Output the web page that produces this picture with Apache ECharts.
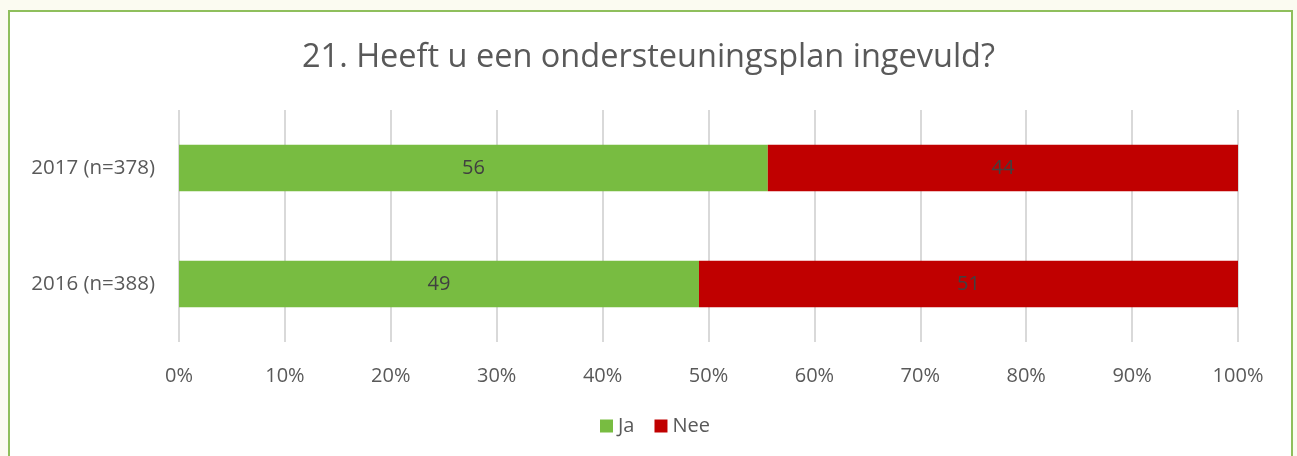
<!DOCTYPE html>
<html>
<head>
<meta charset="utf-8">
<script src="https://cdn.jsdelivr.net/npm/echarts@6/dist/echarts.min.js"></script>
<style>
  html, body { margin: 0; padding: 0; background: #fbfbf1; }
  .frame { position: absolute; left: 8px; top: 10px; width: 1281px; height: 460px;
           background: #fff; border: 2px solid #8fbf5c; }
  #chart { position: absolute; left: 0; top: 0; width: 1297px; height: 456px; }
</style>
</head>
<body>
<div class="frame"></div>
<div id="chart"></div>
<script>
var categories = ['2016 (n=388)', '2017 (n=378)']
var ja = [49.1, 55.6]
var nee = [50.9, 44.4]
var ticks = [0, 10, 20, 30, 40, 50, 60, 70, 80, 90, 100]

var chart = echarts.init(document.getElementById('chart'))
var font = '"Open Sans", sans-serif'

var option = {
  backgroundColor: 'transparent',
  animation: false,
  title: {
    text: '21. Heeft u een ondersteuningsplan ingevuld?',
    left: 'center',
    top: 36,
    textStyle: { fontFamily: font, fontSize: 32.5, fontWeight: 'normal', color: '#595959' }
  },
  legend: {
    bottom: 15,
    left: 595,
    itemWidth: 13,
    itemHeight: 13,
    itemGap: 20,
    icon: 'rect',
    textStyle: { fontFamily: font, fontSize: 20, color: '#595959' },
    data: ['Ja', 'Nee']
  },
  grid: { left: 179, right: 59, top: 110, bottom: 114 },
  xAxis: {
    type: 'value',
    min: 0,
    max: ticks[ticks.length - 1],
    interval: ticks[1] - ticks[0],
    axisLine: { show: false },
    axisTick: { show: false },
    axisLabel: { formatter: '{value}%', margin: 24, fontFamily: font, fontSize: 20, color: '#595959' },
    splitLine: { lineStyle: { color: '#d9d9d9', width: 2 } }
  },
  yAxis: {
    type: 'category',
    data: categories,
    axisLine: { show: false },
    axisTick: { show: false },
    axisLabel: { margin: 24, fontFamily: font, fontSize: 20.5, color: '#595959' }
  },
  series: [
    {
      name: 'Ja', type: 'bar', stack: 'a', data: ja, barCategoryGap: '60%',
      itemStyle: { color: '#78bc41' },
      label: { show: true, position: 'inside', formatter: function (p) { return Math.round(p.value) },
               fontFamily: font, fontSize: 20, color: '#404040' }
    },
    {
      name: 'Nee', type: 'bar', stack: 'a', data: nee, barCategoryGap: '60%',
      itemStyle: { color: '#c00000' },
      label: { show: true, position: 'inside', formatter: function (p) { return Math.round(p.value) },
               fontFamily: font, fontSize: 20, color: '#404040' }
    }
  ]
}

chart.setOption(option)
</script>
</body>
</html>
